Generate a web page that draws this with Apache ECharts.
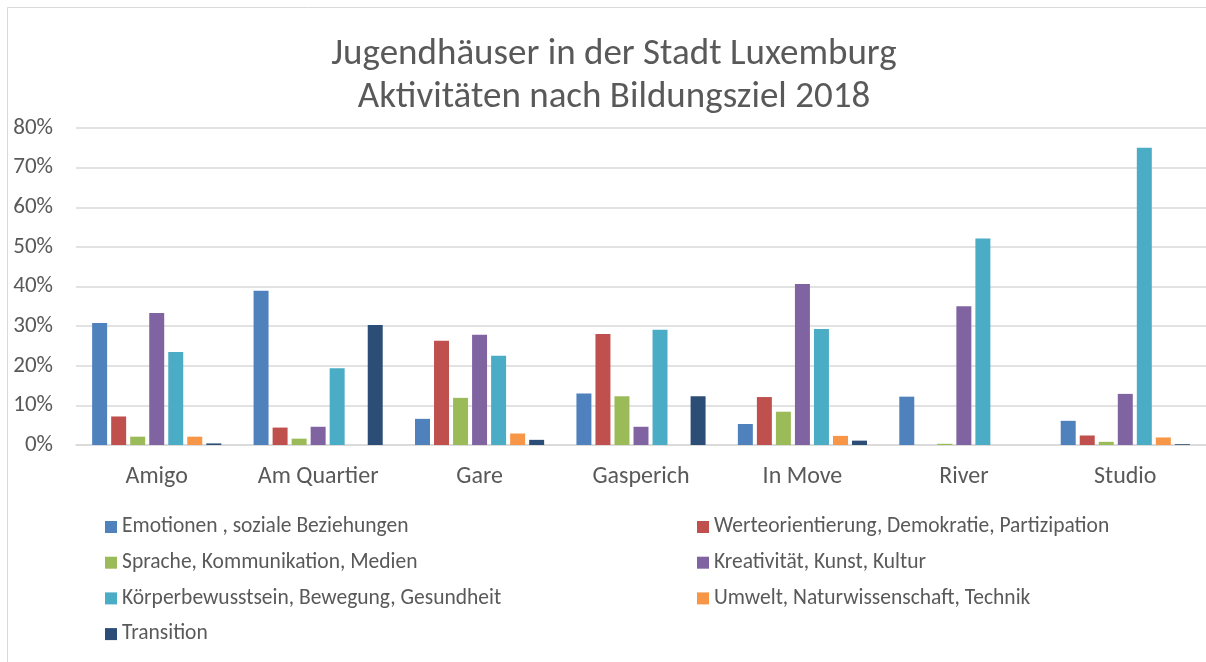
<!DOCTYPE html>
<html>
<head>
<meta charset="utf-8">
<script src="https://cdn.jsdelivr.net/npm/echarts@6/dist/echarts.min.js"></script>
<style>
  html, body { margin: 0; padding: 0; background: #fff; }
  #chart { width: 1206px; height: 662px; }
</style>
</head>
<body>
<div id="chart"></div>
<script>
const categories = ['Amigo', 'Am Quartier', 'Gare', 'Gasperich', 'In Move', 'River', 'Studio']

const seriesNames = [
  'Emotionen , soziale Beziehungen',
  'Werteorientierung, Demokratie, Partizipation',
  'Sprache, Kommunikation, Medien',
  'Kreativität, Kunst, Kultur',
  'Körperbewusstsein, Bewegung, Gesundheit',
  'Umwelt, Naturwissenschaft, Technik',
  'Transition'
]

// values in %
const emotionen = [30.8, 38.9, 6.6, 13.0, 5.3, 12.2, 6.1]
const werte = [7.2, 4.4, 26.3, 28.0, 12.1, 0, 2.4]
const sprache = [2.1, 1.6, 11.9, 12.3, 8.4, 0.3, 0.8]
const kreativitaet = [33.3, 4.6, 27.8, 4.6, 40.6, 35.0, 12.9]
const koerper = [23.5, 19.4, 22.5, 29.1, 29.3, 52.1, 75.0]
const umwelt = [2.1, 0, 2.9, 0, 2.3, 0, 1.9]
const transition = [0.4, 30.3, 1.3, 12.3, 1.1, 0, 0.2]

const yTicks = [0, 10, 20, 30, 40, 50, 60, 70, 80]

const colors = ['#4F81BD', '#C0504D', '#9BBB59', '#8064A2', '#4BACC6', '#F79646', '#2C4D75']
const allValues = [emotionen, werte, sprache, kreativitaet, koerper, umwelt, transition]

const font = 'Calibri, Carlito, "Open Sans", sans-serif'
const textColor = '#595959'

const chart = echarts.init(document.getElementById('chart'))

const legendBase = {
  orient: 'vertical',
  top: 516,
  padding: 0,
  itemWidth: 12,
  itemHeight: 12,
  itemGap: 13.7,
  icon: 'rect',
  textStyle: { fontFamily: font, fontSize: 21.5, lineHeight: 22, color: textColor }
}

chart.setOption({
  animation: false,
  color: colors,
  title: {
    text: 'Jugendhäuser in der Stadt Luxemburg\nAktivitäten nach Bildungsziel 2018',
    left: 609,
    top: 28,
    textAlign: 'center',
    textStyle: { fontFamily: font, fontSize: 37, fontWeight: 300, color: textColor, lineHeight: 43 }
  },
  graphic: [{
    type: 'rect',
    shape: { x: 7.5, y: 7.5, width: 1400, height: 800 },
    style: { fill: 'none', stroke: '#d9d9d9', lineWidth: 1 },
    silent: true
  }],
  legend: [
    Object.assign({}, legendBase, {
      left: 105,
      data: [seriesNames[0], seriesNames[2], seriesNames[4], seriesNames[6]]
    }),
    Object.assign({}, legendBase, {
      left: 697,
      data: [seriesNames[1], seriesNames[3], seriesNames[5]]
    })
  ],
  grid: { left: 76, right: 0, top: 128, bottom: 217, containLabel: false },
  xAxis: {
    type: 'category',
    data: categories,
    axisLine: { lineStyle: { color: '#d9d9d9', width: 1.5 } },
    axisTick: { show: false },
    axisLabel: { color: textColor, fontFamily: font, fontSize: 24, margin: 20 }
  },
  yAxis: {
    type: 'value',
    min: yTicks[0],
    max: yTicks[yTicks.length - 1],
    interval: 10,
    axisLine: { show: false },
    axisTick: { show: false },
    splitLine: { lineStyle: { color: '#d9d9d9', width: 1.5 } },
    axisLabel: { color: textColor, fontFamily: font, fontSize: 23, margin: 23, formatter: '{value}%' }
  },
  series: allValues.map((vals, i) => ({
    name: seriesNames[i],
    type: 'bar',
    data: vals,
    barGap: '27%',
    barCategoryGap: '20%',
    itemStyle: { color: colors[i] }
  }))
})
</script>
</body>
</html>
